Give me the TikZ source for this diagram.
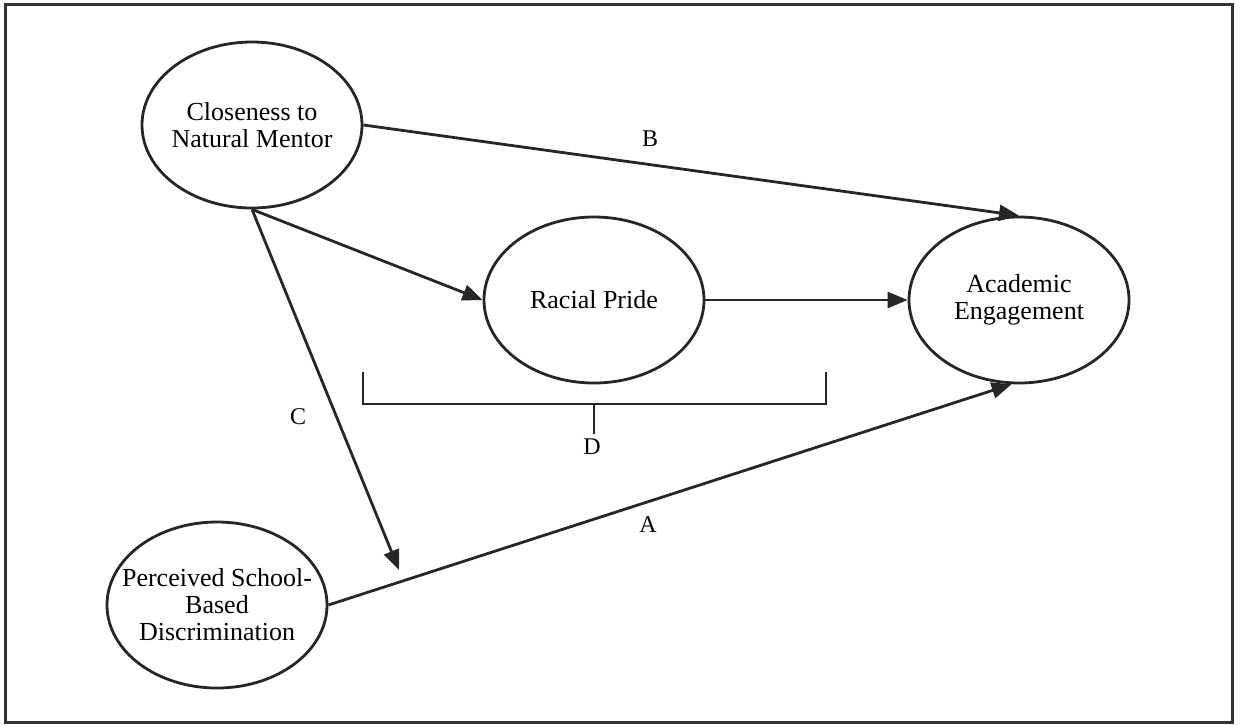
\documentclass[tikz,border=0pt]{standalone}
\usepackage{fontspec}
\setmainfont{Liberation Serif}
\usetikzlibrary{arrows.meta,shapes.geometric}
\begin{document}
\begin{tikzpicture}[x=1pt,y=-1pt,
  ell/.style={draw=black!85,line width=2.8pt,ellipse,minimum width=220pt,minimum height=166pt,inner sep=0pt},
  txt/.style={align=center,inner sep=0pt,font=\fontsize{26}{27}\selectfont},
  conn/.style={draw=black!85,line width=2.8pt,-{Triangle[length=20pt,width=16pt]}},
  lbl/.style={font=\fontsize{24}{24}\selectfont,inner sep=0pt},
  brk/.style={draw=black!85,line width=2.8pt}]
\useasboundingbox (0,0) rectangle (1241,724);
\draw[draw=black!80,line width=3pt] (5,4) rectangle (1232,722);
\node[ell] (cl) at (252,125) {};
\node[ell] (rp) at (594,300) {};
\node[ell] (ae) at (1019,300) {};
\node[ell] (ps) at (217,605) {};
\node[txt] (clt) at (cl) {Closeness to\\Natural Mentor};
\node[txt] (rpt) at (rp) {Racial Pride};
\node[txt] (aet) at (ae) {Academic\\Engagement};
\node[txt] (pst) at (ps) {Perceived School-\\Based\\Discrimination};
\coordinate (ctip) at (399,570);
\draw[conn] (cl.east) -- (ae.north);
\draw[conn] (cl.south) -- (rp.west);
\draw[conn] (rp.east) -- (ae.west);
\draw[conn] (cl.south) -- (ctip);
\draw[conn] (ps.east) -- (ae.265);
\coordinate (b1) at (363,372);
\coordinate (b2) at (363,404);
\coordinate (b3) at (826,404);
\coordinate (b4) at (826,372);
\coordinate (bm) at (594,404);
\coordinate (bd) at (594,434);
\draw[brk] (b1) -- (b2) -- (b3) -- (b4);
\draw[brk] (bm) -- (bd);
\node[lbl] (lb) at (650,139) {B};
\node[lbl] (lc) at (298,417) {C};
\node[lbl] (ld) at (592,447) {D};
\node[lbl] (la) at (648,525) {A};
\end{tikzpicture}
\end{document}
